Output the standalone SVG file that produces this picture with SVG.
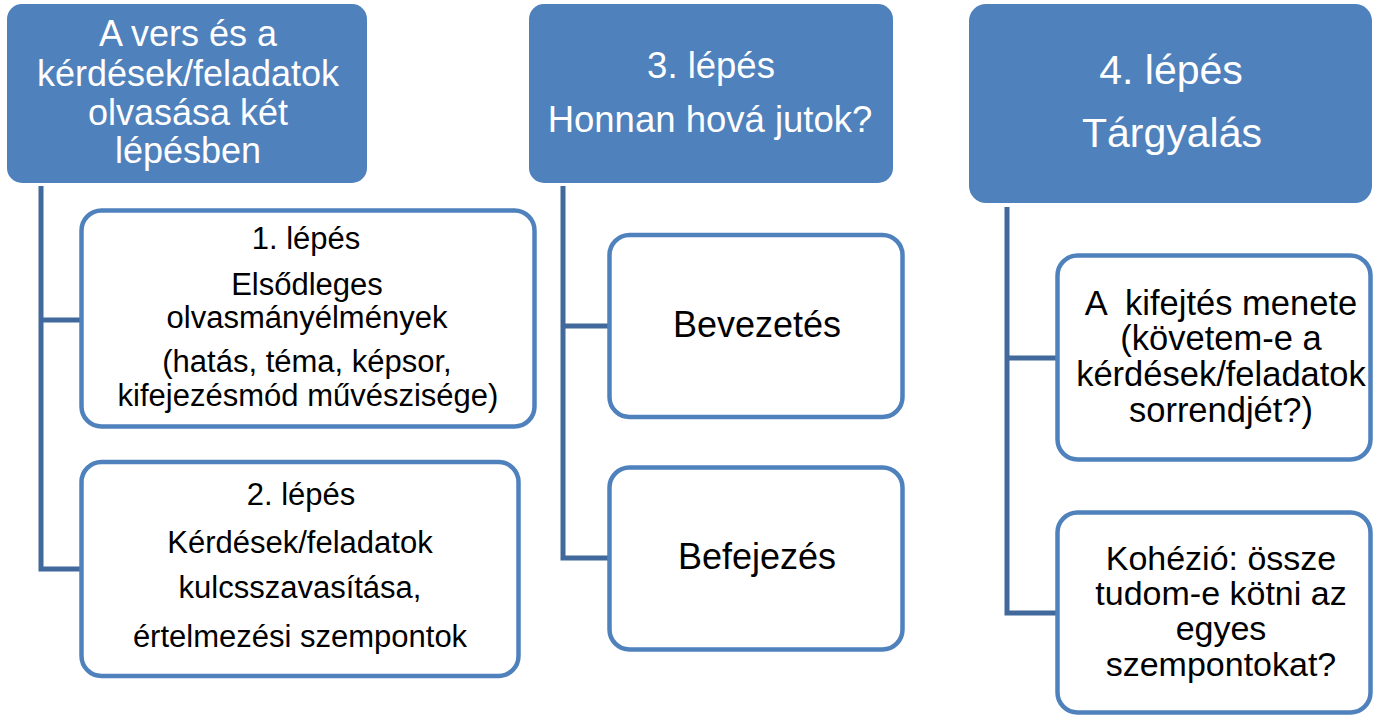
<svg xmlns="http://www.w3.org/2000/svg" width="1373" height="716" viewBox="0 0 1373 716">
<style>
.hdr{fill:#4F81BD;stroke:none}
.box{fill:#FFFFFF;stroke:#4F81BD;stroke-width:4.5}
.con{fill:none;stroke:#41699C;stroke-width:5;stroke-linejoin:miter}
text{font-family:"Liberation Sans",Arial,sans-serif;text-anchor:middle}
.ht{fill:#FFFFFF}
.bt{fill:#000000}
</style>
<rect width="1373" height="716" fill="#FFFFFF"/>
<g id="connectors">
<path class="con" d="M41,186 V569 H81 M41,320 H81"/>
<path class="con" d="M563,186 V558 H609 M563,326 H609"/>
<path class="con" d="M1007,207 V613 H1057 M1007,358 H1057"/>
</g>
<g id="head1">
<rect class="hdr" x="7" y="4" width="360" height="179" rx="15"/>
<text class="ht" font-size="36"><tspan x="188" y="46">A vers és a</tspan><tspan x="188" y="86">kérdések/feladatok</tspan><tspan x="188" y="125">olvasása két</tspan><tspan x="188" y="163">lépésben</tspan></text>
</g>
<g id="step1">
<rect class="box" x="81.5" y="210.5" width="453" height="216" rx="20"/>
<text class="bt" font-size="31"><tspan x="306" y="249">1. lépés</tspan><tspan x="307" y="295">Elsődleges</tspan><tspan x="307" y="328">olvasmányélmények</tspan><tspan x="307" y="372">(hatás, téma, képsor,</tspan><tspan x="308" y="406">kifejezésmód művészisége)</tspan></text>
</g>
<g id="step2">
<rect class="box" x="81.5" y="462" width="437" height="214" rx="20"/>
<text class="bt" font-size="31"><tspan x="301" y="505">2. lépés</tspan><tspan x="300" y="553">Kérdések/feladatok</tspan><tspan x="300" y="598">kulcsszavasítása,</tspan><tspan x="300" y="647">értelmezési szempontok</tspan></text>
</g>
<g id="head2">
<rect class="hdr" x="529" y="4" width="364" height="179" rx="15"/>
<text class="ht" font-size="36.5"><tspan x="711" y="78">3. lépés</tspan><tspan x="710" y="132">Honnan hová jutok?</tspan></text>
</g>
<g id="bevezetes">
<rect class="box" x="609.5" y="235" width="293" height="182" rx="20"/>
<text class="bt" font-size="36" x="757" y="337">Bevezetés</text>
</g>
<g id="befejezes">
<rect class="box" x="609.5" y="467.5" width="293" height="182" rx="20"/>
<text class="bt" font-size="36" x="757" y="569">Befejezés</text>
</g>
<g id="head3">
<rect class="hdr" x="969" y="4" width="403" height="199" rx="17"/>
<text class="ht" font-size="41"><tspan x="1171" y="84">4. lépés</tspan><tspan x="1172" y="147">Tárgyalás</tspan></text>
</g>
<g id="kifejtes">
<rect class="box" x="1057.5" y="255.5" width="313" height="204" rx="20"/>
<text class="bt" font-size="34.5" xml:space="preserve"><tspan x="1221" y="315">A  kifejtés menete</tspan><tspan x="1221" y="350">(követem-e a</tspan><tspan x="1221" y="386">kérdések/feladatok</tspan><tspan x="1221" y="422">sorrendjét?)</tspan></text>
</g>
<g id="kohezio">
<rect class="box" x="1057.5" y="512.5" width="313" height="200" rx="20"/>
<text class="bt" font-size="34"><tspan x="1221" y="570">Kohézió: össze</tspan><tspan x="1221" y="605">tudom-e kötni az</tspan><tspan x="1221" y="640">egyes</tspan><tspan x="1221" y="676">szempontokat?</tspan></text>
</g>
</svg>
